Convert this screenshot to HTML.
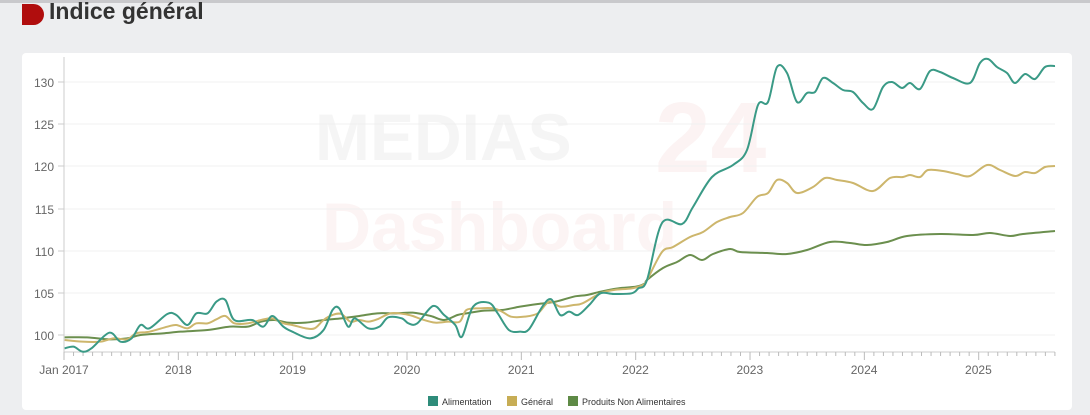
<!DOCTYPE html><html><head><meta charset="utf-8"><style>
body{margin:0;width:1090px;height:415px;background:#edeef0;font-family:"Liberation Sans",sans-serif;overflow:hidden;position:relative}
.top{position:absolute;left:0;top:0;width:1090px;height:3px;background:#c9c9cc}
.mark{position:absolute;left:22px;top:4px;width:22px;height:21px;background:#b00d0d;border-radius:0 11px 11px 0}
h1{position:absolute;left:49px;top:-2px;margin:0;font-size:23px;font-weight:bold;color:#333}
.card{position:absolute;left:22px;top:53px;width:1050px;height:357px;background:#fff;border-radius:4px}
</style></head><body>
<div class="top"></div><div class="mark"></div><h1>Indice général</h1>
<div class="card"></div>
<svg id="s" width="1090" height="415" style="position:absolute;left:0;top:0" font-family="Liberation Sans, sans-serif">
<text x="315" y="160" font-size="66" font-weight="bold" fill="#f5f5f5">MEDIAS</text>
<text x="322" y="250" font-size="68" font-weight="bold" fill="#fcf4f4">Dashboard</text>
<text x="655" y="172" font-size="100" font-weight="bold" fill="#fcf3f3">24</text>
<g id="g"></g>
</svg>
<script>
var g=document.getElementById('g'),h='';
var ys={130:82,125:124,120:166,115:209,110:251,105:293,100:335};
for(var v in ys){h+='<line x1="64" x2="1055" y1="'+ys[v]+'" y2="'+ys[v]+'" stroke="#f0f0f0"/>';
h+='<line x1="58" x2="64" y1="'+ys[v]+'" y2="'+ys[v]+'" stroke="#ccc"/>';
h+='<text x="54" y="'+(ys[v]+5)+'" font-size="12" fill="#666" text-anchor="end">'+v+'</text>';}
h+='<line x1="64" x2="64" y1="57" y2="352" stroke="#ccc"/><line x1="64" x2="1055" y1="352" y2="352" stroke="#ccc"/>';
for(var m=0;m<=104;m++){var x=64+m*9.528;h+='<line x1="'+x+'" x2="'+x+'" y1="352" y2="'+(m%12==0?360:356)+'" stroke="#bbb"/>';}
var lab=['Jan 2017','2018','2019','2020','2021','2022','2023','2024','2025'];
lab.forEach(function(l,i){h+='<text x="'+(64+i*114.3)+'" y="374" font-size="12" fill="#666" text-anchor="middle">'+l+'</text>';});
function z(a){var r=[];for(var i=0;i<a.length;i+=2)r.push([a[i]/2.24+20,a[i+1]/3+280]);return r;}
function p(a){var r=[];for(var i=0;i<a.length;i+=2)r.push([a[i],a[i+1]]);return r;}
function path(pts){var d='M'+pts[0][0]+','+pts[0][1];for(var i=0;i<pts.length-1;i++){var p0=pts[i-1]||pts[i],p1=pts[i],p2=pts[i+1],p3=pts[i+2]||p2;
d+=' C'+(p1[0]+(p2[0]-p0[0])/6)+','+(p1[1]+(p2[1]-p0[1])/6)+' '+(p2[0]-(p3[0]-p1[0])/6)+','+(p2[1]-(p3[1]-p1[1])/6)+' '+p2[0]+','+p2[1];}return d;}
var gen=z([100,180,140,185,180,185,210,175,240,178,260,160,290,155,330,140,350,135,375,145,395,130,420,130,440,118,460,108,480,130,510,130,540,120,565,115,590,130,610,135,640,145,660,145,680,120,700,105,720,102,740,125,760,120,780,125,800,118,830,100,860,102,880,108,900,118,930,128,960,125,985,125,1000,90,1030,85,1060,85,1080,95,1100,110,1130,110,1160,100,1185,65,1210,80,1240,75,1260,70,1300,40,1330,30,1370,25,1395,15]).concat(p([647,280,662,252,673,247,690,237,703,232,717,222,730,217,743,213,757,197,768,193,777,180,787,183,797,193,813,187,825,178,837,180,853,183,873,191,890,178,903,177,910,175,920,177,928,170,943,171,957,174,970,176,987,165,1000,170,1015,176,1025,172,1035,173,1045,167,1055,166]));
var pna=z([100,172,150,172,200,178,240,175,270,165,320,160,360,155,420,150,470,140,510,140,540,125,570,120,600,128,640,128,680,120,720,115,760,108,800,100,840,100,880,98,920,108,950,120,980,105,1000,100,1040,92,1080,90,1120,80,1160,72,1200,65,1240,50,1270,45,1300,35,1340,25,1380,20,1400,10]).concat(p([647,280,663,268,677,262,690,255,702,260,713,254,730,249,740,252,767,253,787,254,807,250,830,242,850,243,867,245,887,242,907,236,940,234,973,235,990,233,1010,236,1023,234,1055,231]));
var ali=z([100,205,120,200,140,215,160,205,200,158,225,185,250,175,270,135,290,145,330,102,350,105,375,135,395,100,420,100,440,65,460,60,480,120,520,120,545,140,565,108,590,140,610,155,650,175,680,150,700,90,715,85,735,140,750,115,780,145,805,140,825,112,855,115,870,130,890,130,925,78,950,105,975,135,990,170,1015,80,1050,68,1070,100,1095,150,1120,155,1140,148,1170,80,1190,58,1210,105,1230,95,1250,105,1275,75,1300,40,1330,42,1370,40,1385,25]).concat(p([647,280,662,223,682,224,693,207,712,177,733,165,747,150,758,105,768,102,777,67,787,73,797,102,807,93,815,92,823,78,833,83,843,90,853,92,863,103,873,109,883,87,892,82,902,88,910,83,920,89,930,71,940,72,953,78,970,83,980,63,988,59,997,67,1007,73,1015,83,1025,74,1035,79,1045,67,1055,66]));
h+='<path d="'+path(pna)+'" fill="none" stroke="#6b8f4e" stroke-width="2"/>';
h+='<path d="'+path(gen)+'" fill="none" stroke="#cdb66c" stroke-width="2"/>';
h+='<path d="'+path(ali)+'" fill="none" stroke="#3a9a86" stroke-width="2"/>';
var L=[['#2e8c7a','Alimentation',428],['#c7ad55','Général',507],['#5e8a46','Produits Non Alimentaires',568]];
L.forEach(function(l){h+='<rect x="'+l[2]+'" y="396" width="10" height="10" fill="'+l[0]+'"/><text x="'+(l[2]+14)+'" y="405" font-size="9" fill="#333">'+l[1]+'</text>';});
g.innerHTML=h;
</script>
</body></html>
